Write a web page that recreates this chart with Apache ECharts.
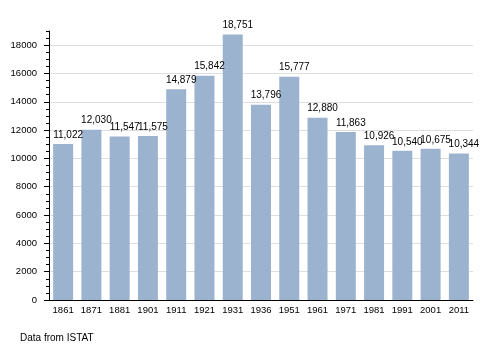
<!DOCTYPE html>
<html><head><meta charset="utf-8">
<script src="https://cdn.jsdelivr.net/npm/echarts@6/dist/echarts.min.js"></script>
<style>html,body{margin:0;padding:0;background:#fff}#c{width:500px;height:350px}</style>
</head><body><div id="c"></div>
<script>
const categories = ['1861','1871','1881','1901','1911','1921','1931','1936','1951','1961','1971','1981','1991','2001','2011'];
const population = [11022,12030,11547,11575,14879,15842,18751,13796,15777,12880,11863,10926,10540,10675,10344];
const yTickLabels = [0,2000,4000,6000,8000,10000,12000,14000,16000,18000];
const sourceNote = 'Data from ISTAT';

const font = 'Liberation Sans, Arial, Helvetica, sans-serif';
const chart = echarts.init(document.getElementById('c'));
chart.setOption({
  animation: false,
  backgroundColor: '#fff',
  grid: { left: 49, right: 27, top: 31, bottom: 50 },
  xAxis: {
    type: 'category', data: categories,
    axisLine: { lineStyle: { color: '#000', width: 1 } },
    axisTick: { show: false },
    axisLabel: { color: '#000', fontFamily: font, fontSize: 9.5, margin: 5 }
  },
  yAxis: [{
    type: 'value', min: 0, max: 19000, interval: 500,
    axisLine: { show: true, lineStyle: { color: '#000' } },
    axisTick: { show: true, customValues: yTickLabels, length: 5, lineStyle: { color: '#000' } },
    axisLabel: { customValues: yTickLabels, color: '#000', fontFamily: font, fontSize: 9.5, margin: 12,
      formatter: v => String(v) },
    splitLine: { show: true, lineStyle: { color: '#dedede', width: 1 } }
  }, {
    type: 'value', min: 0, max: 19000, interval: 500, position: 'left',
    axisLine: { show: false },
    axisTick: { show: true, length: 3, lineStyle: { color: '#000' } },
    axisLabel: { show: false },
    splitLine: { show: false }
  }],
  series: [{
    type: 'bar', data: population, yAxisIndex: 0,
    barWidth: 20,
    itemStyle: { color: '#9cb3cf' },
    label: {
      show: true, position: 'top', distance: 4, offset: [5, 0],
      color: '#000', fontFamily: font, fontSize: 10,
      formatter: p => p.value.toLocaleString('en-US')
    }
  }],
  graphic: [{
    type: 'text', left: 20, top: 333,
    style: { text: sourceNote, fill: '#000', font: '10px ' + font }
  }]
});
</script></body></html>
